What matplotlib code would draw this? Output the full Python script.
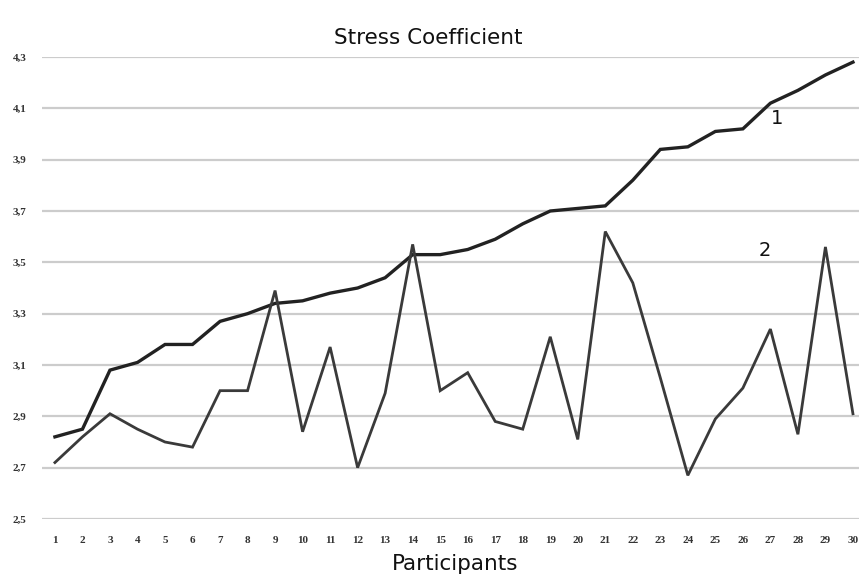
import numpy as np
import matplotlib
matplotlib.use("Agg")
import matplotlib.pyplot as plt

participants = list(range(1, 31))
stress_1 = [2.82, 2.85, 3.08, 3.11, 3.18, 3.18, 3.27, 3.30, 3.34, 3.35,
            3.38, 3.40, 3.44, 3.53, 3.53, 3.55, 3.59, 3.65, 3.70, 3.71,
            3.72, 3.82, 3.94, 3.95, 4.01, 4.02, 4.12, 4.17, 4.23, 4.28]
stress_2 = [2.72, 2.82, 2.91, 2.85, 2.80, 2.78, 3.00, 3.00, 3.39, 2.84,
            3.17, 2.70, 2.99, 3.57, 3.00, 3.07, 2.88, 2.85, 3.21, 2.81,
            3.62, 3.42, 3.05, 2.67, 2.89, 3.01, 3.24, 2.83, 3.56, 2.91]
y_ticks = [2.5, 2.7, 2.9, 3.1, 3.3, 3.5, 3.7, 3.9, 4.1, 4.3]

fig = plt.figure(figsize=(8.59, 5.79), dpi=100)
ax = fig.add_axes([42/859, 1 - 519/579, 1 - 42/859, (519 - 57)/579])

ax.plot(participants, stress_1, color="#222222", lw=2.4, solid_joinstyle="miter", zorder=3)
ax.plot(participants, stress_2, color="#3a3a3a", lw=2.0, solid_joinstyle="miter", zorder=3)

# curve labels
ax.text(27.25, 4.06, "1", fontsize=14, color="#111111", ha="center", va="center")
ax.text(26.8, 3.545, "2", fontsize=14, color="#111111", ha="center", va="center")

ax.set_xlim(0.53, 30.22)
ax.set_ylim(2.5, 4.3)
ax.set_yticks(y_ticks)
ax.set_yticklabels([("%.1f" % v).replace(".", ",") for v in y_ticks],
                   fontsize=8, family="Liberation Serif", fontweight="bold", color="#333333")
ax.set_xticks(participants)
ax.set_xticklabels([str(p) for p in participants],
                   fontsize=8, family="Liberation Serif", fontweight="bold", color="#333333")
ax.tick_params(axis="both", length=0)
ax.tick_params(axis="y", pad=21)
ax.tick_params(axis="x", pad=12)
for lbl in ax.get_yticklabels():
    lbl.set_horizontalalignment("left")

ax.grid(axis="y", color="#cccccc", lw=1.6, zorder=0)
ax.set_axisbelow(True)
for s in ax.spines.values():
    s.set_visible(False)

fig.text(428/859, 1 - 38/579, "Stress Coefficient", fontsize=15.5, ha="center", va="center", color="#111111")
fig.text(455/859, 1 - 564/579, "Participants", fontsize=15.5, ha="center", va="center", color="#111111")

fig.savefig("out.png", dpi=100, facecolor="white")
